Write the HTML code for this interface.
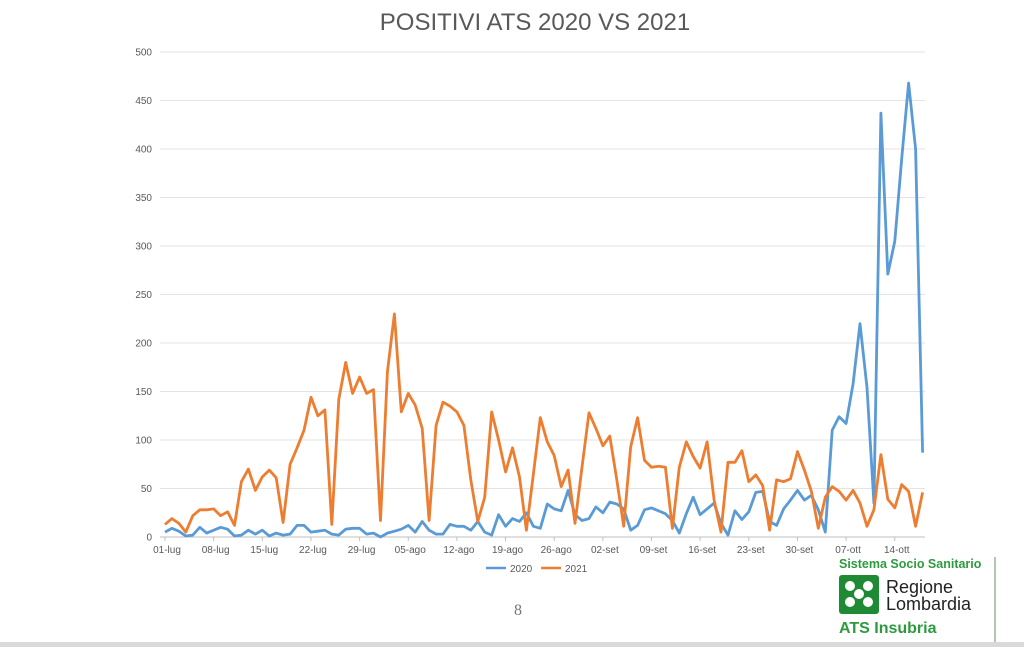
<!DOCTYPE html>
<html><head><meta charset="utf-8">
<style>
html,body{margin:0;padding:0;background:#fff;}
body{width:1024px;height:647px;position:relative;overflow:hidden;font-family:"Liberation Sans",sans-serif;}
</style></head>
<body>
<svg id="chart" width="1024" height="647" style="position:absolute;left:0;top:0">
<text x="535" y="30" text-anchor="middle" font-size="24" fill="#595959" font-family="Liberation Sans, sans-serif">POSITIVI ATS 2020 VS 2021</text>
<g id="grid"></g><g id="ylabels"></g><g id="xlabels"></g><g id="series"></g>
<g>
<line x1="486" y1="568" x2="506" y2="568" stroke="#5B9BD5" stroke-width="2.5"/>
<text x="510" y="572" font-size="10" fill="#595959">2020</text>
<line x1="541" y1="568" x2="561" y2="568" stroke="#ED7D31" stroke-width="2.5"/>
<text x="565" y="572" font-size="10" fill="#595959">2021</text>
</g>
<text x="518" y="615" text-anchor="middle" font-size="16" fill="#777" font-family="Liberation Serif, serif">8</text>
<g>
<text x="839" y="568" font-size="12.5" font-weight="bold" fill="#2e9a3e">Sistema Socio Sanitario</text>
<rect x="839" y="575" width="40" height="39" rx="3" fill="#1f8a34"/>
<g fill="#fff" transform="translate(859,594)">
<circle cx="-9" cy="-8" r="5"/><circle cx="9" cy="-8" r="5"/><circle cx="-9" cy="8" r="5"/><circle cx="9" cy="8" r="5"/><circle cx="0" cy="0" r="5"/>
</g>
<text x="886" y="593" font-size="18" fill="#222">Regione</text>
<text x="886" y="610" font-size="18" fill="#222">Lombardia</text>
<text x="839" y="633" font-size="16" font-weight="bold" fill="#2e9a3e">ATS Insubria</text>
</g>
<line x1="995" y1="557" x2="995" y2="645" stroke="#9ab39a" stroke-width="1.5"/>
<rect x="0" y="642" width="1024" height="5" fill="#d9d9d9"/>
</svg>
<script>
const yTicks=[0,50,100,150,200,250,300,350,400,450,500];
const xTickLabels=["01-lug","08-lug","15-lug","22-lug","29-lug","05-ago","12-ago","19-ago","26-ago","02-set","09-set","16-set","23-set","30-set","07-ott","14-ott"];
const values2020=[5,9,6,1,2,10,4,7,10,8,1,2,7,3,7,1,4,2,3,12,12,5,6,7,3,2,8,9,9,3,4,0,4,6,
8,12,5,16,7,3,3,13,11,11,7,16,5,2,23,11,19,16,25,11,9,34,29,27,48,23,17,19,31,25,36,34,29,7,12,28,
30,27,24,17,4,24,41,23,29,35,14,2,27,18,26,46,47,16,12,29,38,48,38,43,28,5,110,124,117,158,
220,154,35,437,271,305,390,468,400,87];
const values2021=[13,19,14,5,22,28,28,29,22,26,12,57,70,48,62,69,61,15,75,92,110,144,125,131,13,142,180,148,165,148,152,17,170,230,
129,148,136,112,17,115,139,135,129,115,59,16,41,129,100,67,92,62,7,65,123,98,84,52,69,14,72,128,112,94,104,59,11,93,123,
79,72,73,72,9,72,98,83,71,98,38,5,77,77,89,57,64,53,7,59,57,60,88,69,47,9,41,52,47,38,48,35,11,28,85,39,30,54,47,11,46];
const NS="http://www.w3.org/2000/svg";
const X0=165,DX=6.95,Y0=537,YS=0.97;
function xs(d){return X0+d*DX;}
function ys(v){return Y0-v*YS;}
const grid=document.getElementById('grid'),yl=document.getElementById('ylabels'),xl=document.getElementById('xlabels'),ser=document.getElementById('series');
yTicks.forEach(t=>{
 const l=document.createElementNS(NS,'line');
 
 
 l.setAttribute('x1',160);l.setAttribute('x2',925);l.setAttribute('y1',ys(t));l.setAttribute('y2',ys(t));
 l.setAttribute('stroke',t===0?'#bfbfbf':'#e3e3e3');l.setAttribute('stroke-width',1);
 grid.appendChild(l);
 const tx=document.createElementNS(NS,'text');
 
 
 tx.setAttribute('x',152);tx.setAttribute('y',ys(t)+3.5);tx.setAttribute('text-anchor','end');
 tx.setAttribute('font-size',10);tx.setAttribute('fill','#595959');tx.textContent=t;
 yl.appendChild(tx);
});
xTickLabels.forEach((s,i)=>{
 const x=xs(i*7);
 const tk=document.createElementNS(NS,'line');
 
 
 tk.setAttribute('x1',x);tk.setAttribute('x2',x);tk.setAttribute('y1',537);tk.setAttribute('y2',541);
 tk.setAttribute('stroke','#bfbfbf');grid.appendChild(tk);
 const tx=document.createElementNS(NS,'text');
 
 
 tx.setAttribute('x',x+2);tx.setAttribute('y',553);tx.setAttribute('text-anchor','middle');
 tx.setAttribute('font-size',10);tx.setAttribute('fill','#595959');tx.textContent=s;
 xl.appendChild(tx);
});
function line(vals,color,name){
 const p=document.createElementNS(NS,'polyline');
 
 
 p.setAttribute('points',vals.map((v,i)=>xs(i).toFixed(1)+','+ys(v).toFixed(1)).join(' '));
 p.setAttribute('fill','none');p.setAttribute('stroke',color);p.setAttribute('stroke-width',2.8);
 p.setAttribute('stroke-linejoin','round');
 ser.appendChild(p);
}
line(values2020,'#5B9BD5','series-2020');
line(values2021,'#ED7D31','series-2021');
</script>
</body></html>
